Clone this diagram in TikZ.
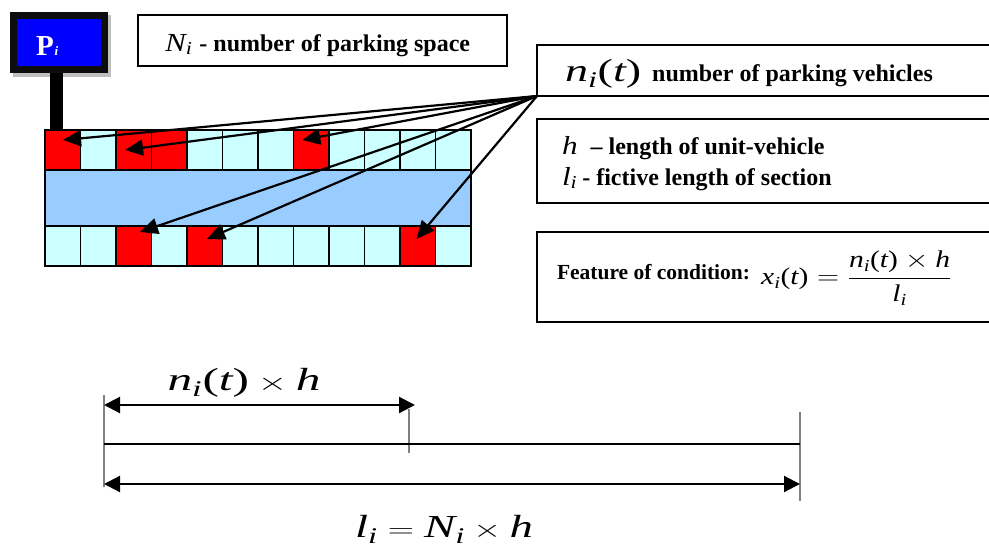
\documentclass[tikz,border=0pt]{standalone}
\usepackage{amsmath}
\usepackage{fontspec}
\setmainfont{Liberation Serif}
\usetikzlibrary{arrows.meta, positioning, calc}

\definecolor{cellfree}{HTML}{CCFFFF}
\definecolor{roadblue}{HTML}{99CCFF}
\definecolor{signblue}{HTML}{0000FF}
\definecolor{tickgray}{HTML}{808080}
\newcommand{\vr}[1]{\textit{#1}}
\newcommand{\pr}[1]{\text{(}#1\text{)}}

\tikzset{
    cell/.style={draw, line width=1.6pt, minimum width=35.5pt, minimum height=40pt, inner sep=0pt, outer sep=0pt, anchor=north west},
    infobox/.style={draw, line width=1.5pt, fill=white, inner sep=0pt, outer sep=0pt, anchor=north west, align=left},
    label/.style={inner sep=0pt, outer sep=0pt, anchor=base west, font=\fontsize{24}{28}\selectfont\bfseries},
    pointer/.style={line width=2.2pt, -{Triangle[length=18pt,width=16pt]}},
    span/.style={line width=2.2pt, {Triangle[length=16pt,width=16pt]}-{Triangle[length=16pt,width=16pt]}},
    tick/.style={line width=1.5pt, tickgray}
}

\begin{document}
\begin{tikzpicture}[x=1pt, y=-1pt]
    \useasboundingbox (0,0) rectangle (989,547);

    % sign board
    \fill[black!25] (13,15) rectangle (111,77);
    \fill[black] (50,73) rectangle (63,130);
    \node[draw=black!95, line width=7pt, fill=signblue, minimum width=91pt, minimum height=54pt, inner sep=0pt, outer sep=0pt, anchor=north west] (sign) at (13.5,15.5) {};
    \node[label, text=white, font=\fontsize{29}{30}\selectfont\bfseries] (signtext) at (36,55) {P\hspace{1pt}{\fontsize{13}{13}\selectfont\textit{i}}};

    % parking rows
    \foreach \i/\col in {1/red, 2/cellfree, 3/red, 4/red, 5/cellfree, 6/cellfree, 7/cellfree, 8/red, 9/cellfree, 10/cellfree, 11/cellfree, 12/cellfree}
        \node[cell, fill=\col] (t\i) at ({45+35.5*(\i-1)},130) {};
    \foreach \i/\col in {1/cellfree, 2/cellfree, 3/red, 4/cellfree, 5/red, 6/cellfree, 7/cellfree, 8/cellfree, 9/cellfree, 10/cellfree, 11/red, 12/cellfree}
        \node[cell, fill=\col] (b\i) at ({45+35.5*(\i-1)},226) {};
    \node[cell, fill=roadblue, minimum width=426pt, minimum height=56pt] (road) at (45,170) {};

    % text boxes
    \node[infobox, minimum width=369pt, minimum height=51pt] (Nbox) at (138,15) {};
    \node[label] (Ntext) at (165,51) {\scalebox{1.2}[1]{\fontsize{26}{28}\selectfont\mdseries$\vr{N}_{\vr{i}}$}\hspace{7pt}- number of parking space};

    \node[infobox, minimum width=470pt, minimum height=51pt] (nbox) at (537,45) {};
    \node[label] (ntext) at (565,81) {\scalebox{1.44}[1]{\fontsize{32}{32}\selectfont\mdseries$\vr{n}_{\vr{i}}\pr{\vr{t}}$}\hspace{11pt}number of parking vehicles};

    \node[infobox, minimum width=470pt, minimum height=84pt] (hbox) at (537,119) {};
    \node[label] (htext) at (562,154) {\scalebox{1.2}[1]{\fontsize{26}{28}\selectfont\mdseries\vr{h}}\hspace{13pt}-- length of unit-vehicle};
    \node[label] (ltext) at (562,185) {\scalebox{1.2}[1]{\fontsize{26}{28}\selectfont\mdseries$\vr{l}_{\vr{i}}$}\hspace{5pt}- fictive length of section};

    \node[infobox, minimum width=470pt, minimum height=90pt] (fbox) at (537,232) {};
    \node[label, font=\fontsize{21.5}{24}\selectfont\bfseries] (ftext) at (557,279) {Feature of condition:};
    \node[inner sep=0pt, anchor=west, font=\fontsize{24}{28}\selectfont] (fmath) at (761,278) {\scalebox{1.23}[1]{$\vr{x}_{\vr{i}}\pr{\vr{t}}=\dfrac{\vr{n}_{\vr{i}}\pr{\vr{t}}\times\vr{h}}{\vr{l}_{\vr{i}}}$}};

    % pointers
    \draw[pointer] (nbox.south west) -- ([shift={(0.3pt,10pt)}]t1.center);
    \draw[pointer] (nbox.south west) -- ([shift={(-8.7pt,0pt)}]t3.center);
    \draw[pointer] (nbox.south west) -- ([shift={(-9pt,10pt)}]t8.center);
    \draw[pointer] (nbox.south west) -- ([shift={(6.2pt,14pt)}]b3.center);
    \draw[pointer] (nbox.south west) -- ([shift={(2.2pt,7pt)}]b5.center);
    \draw[pointer] (nbox.south west) -- ([shift={(-1.2pt,7pt)}]b11.center);

    % length scale
    \coordinate (lefttop) at (104,395);
    \coordinate (leftend) at (104,487);
    \coordinate (midtop) at (409,409);
    \coordinate (midend) at (409,453);
    \coordinate (righttop) at (800,412);
    \coordinate (rightend) at (800,501);
    \draw[tick] (lefttop) -- (leftend);
    \draw[tick] (midtop) -- (midend);
    \draw[tick] (righttop) -- (rightend);
    \draw[line width=2.2pt] (104,444) coordinate (roadleft) -- (800,444) coordinate (roadright);
    \draw[span] (104,405) coordinate (shortleft) -- (415,405) coordinate (shortright);
    \draw[span] (104,484) coordinate (longleft) -- (800,484) coordinate (longright);

    \node[inner sep=0pt, anchor=base, font=\fontsize{32}{34}\selectfont] (shorttext) at (244,390) {\scalebox{1.54}[1]{$\vr{n}_{\vr{i}}\pr{\vr{t}}\times\vr{h}$}};
    \node[inner sep=0pt, anchor=base, font=\fontsize{32}{34}\selectfont] (longtext) at (444,537) {\scalebox{1.46}[1]{$\vr{l}_{\vr{i}}=\vr{N}_{\vr{i}}\times\vr{h}$}};
\end{tikzpicture}
\end{document}
